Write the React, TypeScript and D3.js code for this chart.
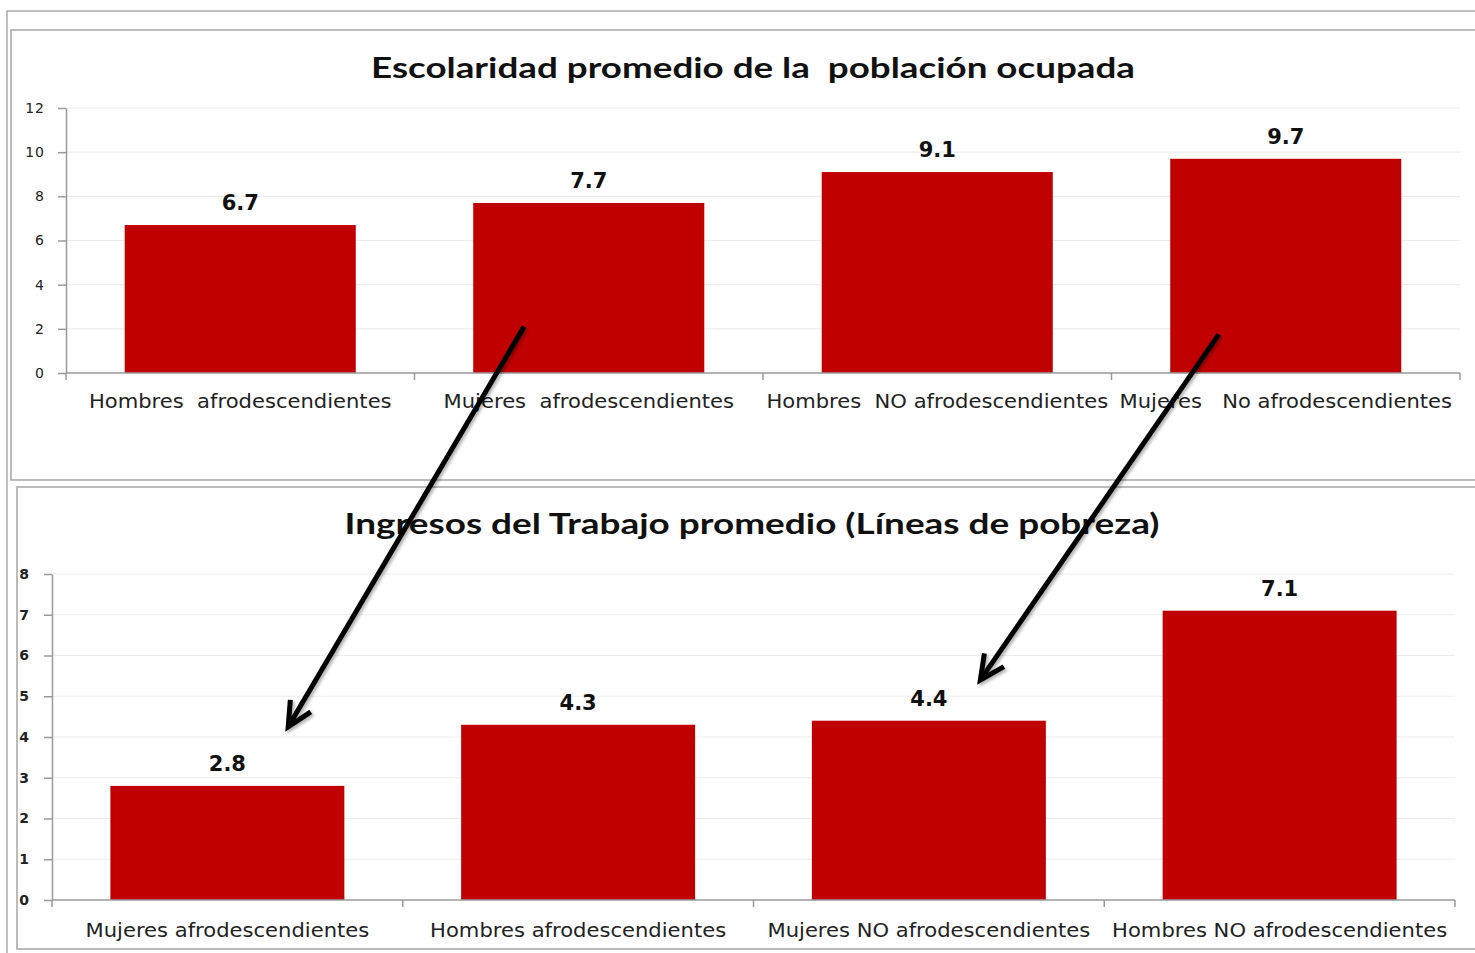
import React, { useEffect, useRef } from 'react';
import * as d3 from 'd3';

// top chart: average schooling
const topTitle = 'Escolaridad promedio de la  población ocupada';
const topCategories = [
  'Hombres  afrodescendientes',
  'Mujeres  afrodescendientes',
  'Hombres  NO afrodescendientes',
  'Mujeres   No afrodescendientes',
];
const topValues = [6.7, 7.7, 9.1, 9.7];
const topTicks = [0, 2, 4, 6, 8, 10, 12];

// bottom chart: average labour income (poverty lines)
const bottomTitle = 'Ingresos del Trabajo promedio (Líneas de pobreza)';
const bottomCategories = [
  'Mujeres afrodescendientes',
  'Hombres afrodescendientes',
  'Mujeres NO afrodescendientes',
  'Hombres NO afrodescendientes',
];
const bottomValues = [2.8, 4.3, 4.4, 7.1];
const bottomTicks = [0, 1, 2, 3, 4, 5, 6, 7, 8];

// arrows: [top category, position in bar, value] -> [bottom category, position in bar, value]
const arrowFromCat = ['Mujeres  afrodescendientes', 'Mujeres   No afrodescendientes'];
const arrowFromPos = [0.22, 0.21];
const arrowFromVal = [2.1, 1.75];
const arrowToCat = ['Mujeres afrodescendientes', 'Mujeres NO afrodescendientes'];
const arrowToPos = [0.76, 0.72];
const arrowToVal = [4.25, 5.4];

const W = 1475;
const H = 953;
const BAR = '#C00000';
const TXT = '#222';

const App = () => {
  const svgRef = useRef<SVGSVGElement>(null);

  useEffect(() => {
    const svg = d3.select(svgRef.current);
    svg.selectAll('*').remove();

    const defs = svg.append('defs');
    defs
      .append('filter')
      .attr('id', 'shadow')
      .attr('x', '-20%')
      .attr('y', '-20%')
      .attr('width', '140%')
      .attr('height', '140%')
      .append('feDropShadow')
      .attr('dx', 2)
      .attr('dy', 2)
      .attr('stdDeviation', 1.5)
      .attr('flood-color', '#000')
      .attr('flood-opacity', 0.3);

    // frames
    svg.append('rect').attr('x', 7).attr('y', 11).attr('width', W).attr('height', H)
      .attr('fill', 'none').attr('stroke', '#aaa').attr('stroke-width', 1.5);
    svg.append('rect').attr('x', 11).attr('y', 30).attr('width', W).attr('height', 450)
      .attr('fill', '#fff').attr('stroke', '#a6a6a6').attr('stroke-width', 1.5);
    svg.append('rect').attr('x', 17).attr('y', 487).attr('width', W).attr('height', 462)
      .attr('fill', '#fff').attr('stroke', '#a6a6a6').attr('stroke-width', 1.5);

    const drawPanel = (cfg) => {
      const g = svg.append('g');
      const x = d3.scaleBand().domain(cfg.cats).range([cfg.left, cfg.right])
        .paddingInner(cfg.pad).paddingOuter(cfg.pad / 2);
      const y = d3.scaleLinear().domain([0, cfg.max]).range([cfg.bottom, cfg.top]);

      g.append('text')
        .attr('x', cfg.titleX)
        .attr('y', cfg.titleY)
        .attr('text-anchor', 'middle')
        .attr('textLength', cfg.titleW)
        .attr('lengthAdjust', 'spacingAndGlyphs')
        .style('font-family', 'Lato, sans-serif')
        .style('font-weight', 700)
        .style('font-size', '28px')
        .style('white-space', 'pre')
        .attr('fill', '#111')
        .text(cfg.title);

      // gridlines
      g.selectAll('.grid')
        .data(cfg.ticks.filter((t) => t > 0))
        .join('line')
        .attr('x1', cfg.left)
        .attr('x2', cfg.right)
        .attr('y1', (d) => y(d))
        .attr('y2', (d) => y(d))
        .attr('stroke', '#ededed')
        .attr('stroke-width', 1.2);

      // bars
      g.selectAll('.bar')
        .data(cfg.values)
        .join('rect')
        .attr('x', (d, i) => x(cfg.cats[i]))
        .attr('y', (d) => y(d))
        .attr('width', x.bandwidth())
        .attr('height', (d) => y(0) - y(d))
        .attr('fill', BAR);

      // value labels
      g.selectAll('.val')
        .data(cfg.values)
        .join('text')
        .attr('x', (d, i) => x(cfg.cats[i]) + x.bandwidth() / 2)
        .attr('y', (d) => y(d) - 15)
        .attr('text-anchor', 'middle')
        .style('font-family', 'DejaVu Sans, sans-serif')
        .style('font-weight', 700)
        .style('font-size', '21px')
        .attr('fill', '#111')
        .text((d) => d.toFixed(1));

      // y axis
      const yAxis = d3.axisLeft(y).tickValues(cfg.ticks).tickSize(8)
        .tickPadding(cfg.tickPad).tickSizeOuter(0);
      const ya = g.append('g').attr('transform', `translate(${cfg.left},0)`).call(yAxis);
      ya.selectAll('path, line').attr('stroke', '#9a9a9a').attr('stroke-width', 1.5);
      ya.selectAll('text')
        .style('font-family', 'DejaVu Sans, sans-serif')
        .style('font-size', '14px')
        .style('letter-spacing', '1px')
        .style('font-weight', cfg.tickBold ? 700 : 400)
        .attr('fill', TXT);

      // x axis line and boundary ticks
      g.append('line').attr('x1', cfg.left).attr('x2', cfg.right)
        .attr('y1', y(0)).attr('y2', y(0))
        .attr('stroke', '#9a9a9a').attr('stroke-width', 1.5);
      const step = x.step();
      const bounds = cfg.cats.map((c) => x(c) - (step - x.bandwidth()) / 2).concat([cfg.right]);
      g.selectAll('.xt')
        .data(bounds)
        .join('line')
        .attr('x1', (d) => d)
        .attr('x2', (d) => d)
        .attr('y1', y(0))
        .attr('y2', y(0) + 7)
        .attr('stroke', '#9a9a9a')
        .attr('stroke-width', 1.5);

      g.selectAll('.cat')
        .data(cfg.cats)
        .join('text')
        .attr('transform', (d) => `translate(${x(d) + x.bandwidth() / 2},${cfg.labelY}) scale(1.11,1)`)
        .attr('text-anchor', 'middle')
        .style('font-family', 'DejaVu Sans, sans-serif')
        .style('font-size', '19px')
        .style('white-space', 'pre')
        .attr('fill', TXT)
        .text((d) => d);

      return { x, y };
    };

    const top = drawPanel({
      title: topTitle, cats: topCategories, values: topValues, ticks: topTicks, max: 12,
      left: 66, right: 1460, bottom: 373, top: 108, pad: 0.337,
      titleX: 753, titleY: 78, titleW: 764, labelY: 408, tickPad: 13, tickBold: false,
    });
    const bot = drawPanel({
      title: bottomTitle, cats: bottomCategories, values: bottomValues, ticks: bottomTicks, max: 8,
      left: 52, right: 1455, bottom: 900, top: 574, pad: 0.333,
      titleX: 752, titleY: 534, titleW: 815, labelY: 937, tickPad: 14, tickBold: true,
    });

    // arrows
    const ag = svg.append('g').attr('filter', 'url(#shadow)');
    arrowFromCat.forEach((c, i) => {
      const x1 = top.x(c) + top.x.bandwidth() * arrowFromPos[i];
      const y1 = top.y(arrowFromVal[i]);
      const x2 = bot.x(arrowToCat[i]) + bot.x.bandwidth() * arrowToPos[i];
      const y2 = bot.y(arrowToVal[i]);
      const ang = Math.atan2(y1 - y2, x1 - x2);
      const len = 27;
      const spread = (26 * Math.PI) / 180;
      const head = [
        [x2 + len * Math.cos(ang - spread), y2 + len * Math.sin(ang - spread)],
        [x2, y2],
        [x2 + len * Math.cos(ang + spread), y2 + len * Math.sin(ang + spread)],
      ];
      ag.append('line').attr('x1', x1).attr('y1', y1).attr('x2', x2).attr('y2', y2)
        .attr('stroke', '#000').attr('stroke-width', 5).attr('stroke-linecap', 'butt');
      ag.append('path').attr('d', d3.line()(head))
        .attr('fill', 'none').attr('stroke', '#000').attr('stroke-width', 5)
        .attr('stroke-linejoin', 'miter').attr('stroke-linecap', 'butt');
    });
  }, []);

  return (
    <svg
      ref={svgRef}
      width={W}
      height={H}
      style={{ position: 'absolute', left: 0, top: 0, background: '#fff' }}
    />
  );
};

export default App;
